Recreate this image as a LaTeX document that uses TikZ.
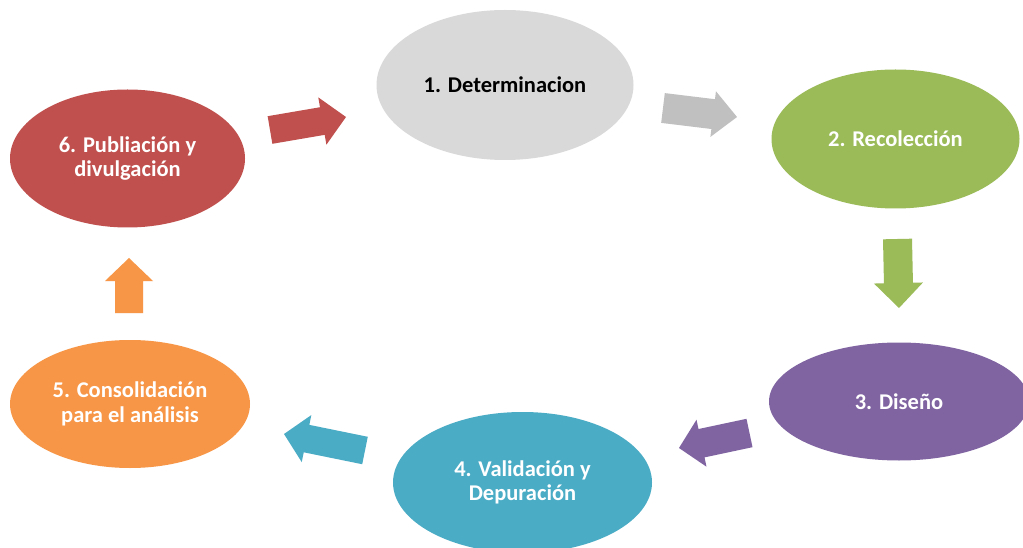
\documentclass[tikz,border=0pt]{standalone}
\usepackage{fontspec}
\setmainfont{Carlito}
\usetikzlibrary{shapes.geometric,calc}
\definecolor{cgray}{HTML}{D9D9D9}
\definecolor{cgrayarr}{HTML}{C0C0C0}
\definecolor{cgreen}{HTML}{9BBB59}
\definecolor{cpurple}{HTML}{8064A2}
\definecolor{cteal}{HTML}{4BACC6}
\definecolor{corange}{HTML}{F79646}
\definecolor{cred}{HTML}{C0504D}
% #1 colour, #2 start coordinate name, #3 tip coordinate name,
% #4 shaft half width, #5 head half width, #6 head length
\newcommand{\blockarr}[6]{%
  \coordinate (#2-h) at ($(#3)!#6!(#2)$);
  \fill[#1] ($(#2)!#4!90:(#3)$) -- ($(#2-h)!#4!90:(#3)$) -- ($(#2-h)!#5!90:(#3)$)
    -- (#3) -- ($(#2-h)!#5!-90:(#3)$) -- ($(#2-h)!#4!-90:(#3)$)
    -- ($(#2)!#4!-90:(#3)$) -- cycle;
}
\tikzset{
  stage/.style={ellipse, inner sep=0pt, text=white, align=center,
    font=\bfseries\fontsize{22.5}{24.5}\selectfont},
}
\begin{document}
\begin{tikzpicture}[x=1pt,y=-1pt]
\useasboundingbox (0,0) rectangle (1023,548);
\clip (0,0) rectangle (1023,548);
\fill[white] (0,0) rectangle (1023,548);

\node[stage, fill=cgray, text=black, minimum width=257pt, minimum height=150pt] (s1) at (505,85) {1. Determinacion};
\node[stage, fill=cgreen, minimum width=248pt, minimum height=139pt] (s2) at (895.5,139) {2. Recolección};
\node[stage, fill=cpurple, minimum width=260pt, minimum height=118pt] (s3) at (899,401.5) {3. Diseño};
\node[stage, fill=cteal, minimum width=259pt, minimum height=141pt] (s4) at (522.5,482.5) {4. Validación y\\Depuración};
\node[stage, fill=corange, minimum width=240pt, minimum height=128pt] (s5) at (130,404) {5. Consolidación\\para el análisis};
\node[stage, fill=cred, minimum width=235pt, minimum height=138pt] (s6) at (127.5,158.5) {6. Publiación y\\divulgación};

% block arrows
\coordinate (a61s) at (270,130);   \coordinate (a61t) at (346,117);
\coordinate (a12s) at (663,108);   \coordinate (a12t) at (737,117);
\coordinate (a23s) at (897.5,239); \coordinate (a23t) at (899,308);
\coordinate (a34s) at (749.5,433); \coordinate (a34t) at (679,448);
\coordinate (a45s) at (365,450.5); \coordinate (a45t) at (284,434);
\coordinate (a56s) at (129,313);   \coordinate (a56t) at (129,258);

\blockarr{cred}{a61s}{a61t}{14pt}{24pt}{24pt}
\blockarr{cgrayarr}{a12s}{a12t}{15pt}{23pt}{24pt}
\blockarr{cgreen}{a23s}{a23t}{14.5pt}{24.5pt}{25pt}
\blockarr{cpurple}{a34s}{a34t}{14.5pt}{24pt}{23pt}
\blockarr{cteal}{a45s}{a45t}{14pt}{24pt}{23pt}
\blockarr{corange}{a56s}{a56t}{14pt}{24pt}{23pt}
\end{tikzpicture}
\end{document}
